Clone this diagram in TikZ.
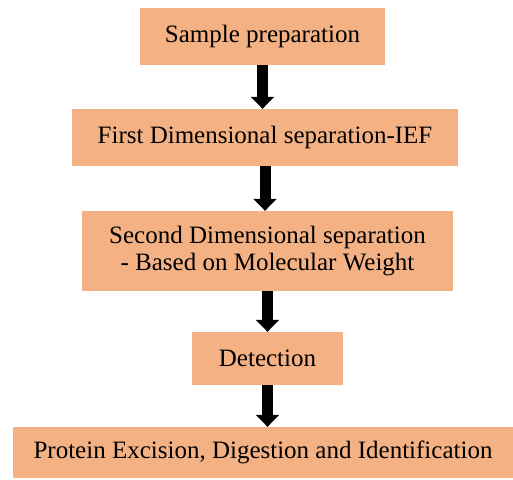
\documentclass[tikz,border=0pt]{standalone}
\usepackage{fontspec}
\setmainfont{Liberation Serif}
\usetikzlibrary{arrows.meta}
\definecolor{boxfill}{RGB}{244,177,131}

\begin{document}
\begin{tikzpicture}[x=1pt,y=-1pt,
  stage/.style={fill=boxfill,inner sep=0pt,align=center,font=\fontsize{25}{27}\selectfont},
  flow/.style={line width=11pt,-{Triangle[width=23pt,length=12pt]}}]
  \useasboundingbox (0,0) rectangle (513,479);
  % the five stages, top to bottom
  \node[stage,minimum width=245pt,minimum height=57pt] (prep) at (262.5,36.5) {Sample preparation};
  \node[stage,minimum width=386pt,minimum height=57pt] (ief) at (265,137.5) {First Dimensional separation-IEF};
  \node[stage,minimum width=371pt,minimum height=80pt] (mw) at (267.5,251) {Second Dimensional separation\\- Based on Molecular Weight};
  \node[stage,minimum width=151pt,minimum height=53pt] (detect) at (267.5,358.5) {Detection};
  \node[stage,minimum width=500pt,minimum height=51pt] (ident) at (263,452.5) {Protein Excision, Digestion and Identification};

  % block arrows between stages
  \draw[flow] (prep.south) -- (prep.south |- ief.north);
  \draw[flow] (ief.south) -- (ief.south |- mw.north);
  \draw[flow] (mw.south) -- (mw.south |- detect.north);
  \draw[flow] (detect.south) -- (detect.south |- ident.north);
\end{tikzpicture}
\end{document}
